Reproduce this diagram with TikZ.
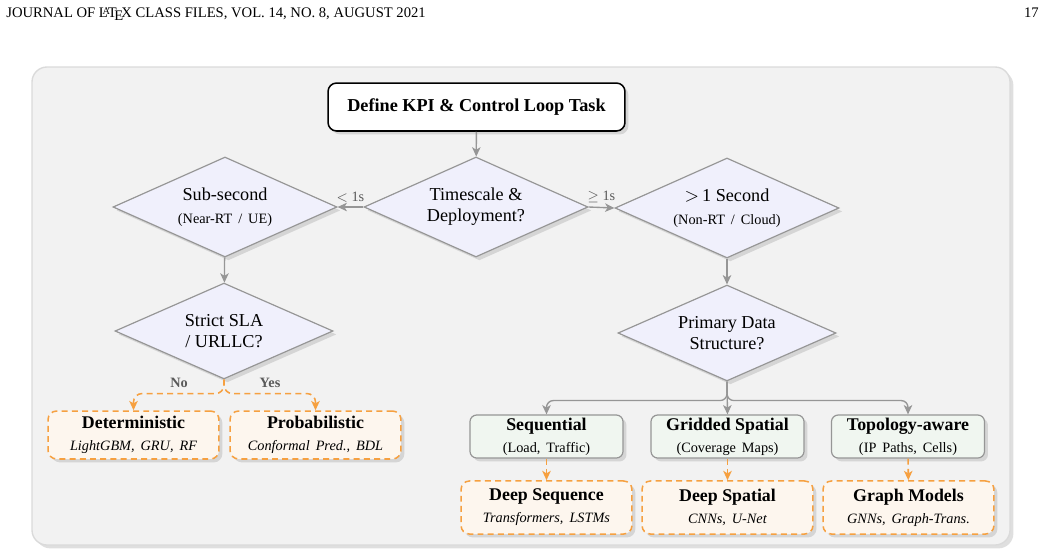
\documentclass[tikz,border=0pt]{standalone}
\usepackage{fontspec}
\setmainfont{Liberation Serif}
\usepackage{tikz}
\usetikzlibrary{shapes.geometric, shadows, arrows.meta}

\definecolor{bgfill}{RGB}{242,242,242}
\definecolor{bgline}{RGB}{218,218,218}
\definecolor{diafill}{RGB}{240,240,252}
\definecolor{grayline}{RGB}{150,150,150}
\definecolor{grnfill}{RGB}{240,246,240}
\definecolor{orgfill}{RGB}{253,246,238}
\definecolor{orgline}{RGB}{246,160,64}
\definecolor{lblgray}{RGB}{90,90,90}

\newcommand{\boxtitle}{\fontsize{10.5}{12}\selectfont\bfseries}
\newcommand{\boxsub}{\fontsize{8.4}{10}\selectfont}
\newcommand{\wsp}{\ \,}

\begin{document}
\begin{tikzpicture}[
  x=0.588pt, y=-0.588pt,
  shade/.style={drop shadow={opacity=0.25, shadow xshift=2pt, shadow yshift=-2pt}},
  startbox/.style={rectangle, draw=black, line width=0.9pt, fill=white, rounded corners=5pt,
                   minimum width=174.6pt, minimum height=28.2pt, font=\fontsize{10.7}{12}\selectfont\bfseries, shade},
  decide/.style={diamond, draw=grayline, line width=0.7pt, fill=diafill, inner sep=0pt, aspect=2.2,
                 align=center, font=\fontsize{10.7}{12.5}\selectfont, shade},
  toprow/.style={decide, minimum width=131.7pt, minimum height=58.8pt},
  lowrow/.style={decide, minimum width=128.2pt, minimum height=56.4pt},
  databox/.style={rectangle, draw=grayline, line width=0.7pt, fill=grnfill, rounded corners=4pt,
                  minimum width=90pt, minimum height=25.3pt, align=center, inner sep=1pt, shade},
  modelbox/.style={rectangle, draw=orgline, dash pattern=on 3.5pt off 2.5pt, line width=0.9pt, fill=orgfill,
                   rounded corners=5pt, minimum width=100.5pt, align=center, inner sep=1pt, shade},
  arrow/.style={-{Stealth[length=5.5pt, width=5pt, inset=1.5pt]}, line width=0.8pt, draw=grayline},
  orgarrow/.style={-{Stealth[length=5.5pt, width=5pt, inset=1.5pt]}, line width=0.9pt,
                   dash pattern=on 3.5pt off 2.5pt, draw=orgline},
  edgelbl/.style={font=\fontsize{8.4}{9}\selectfont, text=lblgray}
]
\useasboundingbox (0,0) rectangle (1041,558);

%% page header
\node[anchor=base west, inner sep=0pt, font=\fontsize{8.6}{9}\selectfont] (head) at (6,17)
  {JOURNAL OF \LaTeX\ CLASS FILES, VOL. 14, NO. 8, AUGUST 2021};
\node[anchor=base east, inner sep=0pt, font=\fontsize{8.6}{9}\selectfont] (pageno) at (1039,17) {17};

%% panel
\draw[draw=bgline, line width=0.8pt, fill=bgfill, rounded corners=8.8pt, shade]
  (32,67) rectangle (1010,545);

%% Decision nodes
\node[startbox] (task) at (476.5,107) {Define KPI \& Control Loop Task};
\node[toprow] (scale) at (476,207) {Timescale \&\\Deployment?};
\node[toprow] (fast) at (225,207)
  {Sub-second\\[1pt]{\boxsub (Near-RT\wsp/\wsp UE)}};
\node[toprow] (slow) at (727,208)
  {$>$\,1 Second\\[1pt]{\boxsub (Non-RT\wsp/\wsp Cloud)}};
\node[lowrow] (sla) at (224,331) {Strict SLA\\/ URLLC?};
\node[lowrow] (prim) at (727,333) {Primary Data\\Structure?};

%% Data structure boxes
\node[databox] (seq) at (546.5,436.5)
  {{\boxtitle Sequential}\\[1pt]{\boxsub (Load,\wsp Traffic)}};
\node[databox] (grid) at (727.5,436.5)
  {{\boxtitle Gridded Spatial}\\[1pt]{\boxsub (Coverage\wsp Maps)}};
\node[databox] (topo) at (908,436.5)
  {{\boxtitle Topology-aware}\\[1pt]{\boxsub (IP\wsp Paths,\wsp Cells)}};

%% Model boxes
\node[modelbox, minimum height=28.2pt] (det) at (133.5,435)
  {{\boxtitle Deterministic}\\[1pt]{\boxsub\itshape LightGBM,\wsp GRU,\wsp RF}};
\node[modelbox, minimum height=28.2pt] (prob) at (315.5,435)
  {{\boxtitle Probabilistic}\\[1pt]{\boxsub\itshape Conformal\wsp Pred.,\wsp BDL}};
\node[modelbox, minimum height=31.2pt] (dseq) at (546.5,507.5)
  {{\boxtitle Deep Sequence}\\[1pt]{\boxsub\itshape Transformers,\wsp LSTMs}};
\node[modelbox, minimum height=31.2pt] (dspa) at (727.5,507.5)
  {{\boxtitle Deep Spatial}\\[1pt]{\boxsub\itshape CNNs,\wsp U-Net}};
\node[modelbox, minimum height=31.2pt] (graph) at (908.5,507.5)
  {{\boxtitle Graph Models}\\[1pt]{\boxsub\itshape GNNs,\wsp Graph-Trans.}};

%% Gray flow
\draw[arrow] (task) -- (scale);
\draw[arrow] (scale.west) -- node[edgelbl, above=-1pt]{$<$ 1s} (fast.east);
\draw[arrow] (scale.east) -- node[edgelbl, above=-1pt]{$\geq$ 1s} (slow.west);
\draw[arrow] (fast) -- (sla);
\draw[arrow] (slow) -- (prim);
\draw[arrow, rounded corners=4pt] (prim.south) -- ++(0,19) -| (seq.north);
\draw[arrow, rounded corners=4pt] (prim.south) -- ++(0,19) -| (topo.north);
\draw[arrow] (prim.south) -- (grid.north);

%% Orange flow
\draw[orgarrow, rounded corners=5pt] (sla.south) -- ++(0,14) -| (det.north);
\draw[orgarrow, rounded corners=5pt] (sla.south) -- ++(0,14) -| (prob.north);
\node[edgelbl, font=\fontsize{8.4}{9}\selectfont\bfseries] (nolbl) at (179,383) {No};
\node[edgelbl, font=\fontsize{8.4}{9}\selectfont\bfseries] (yeslbl) at (270,383) {Yes};
\draw[orgarrow] (seq) -- (dseq);
\draw[orgarrow] (grid) -- (dspa);
\draw[orgarrow] (topo) -- (graph);
\end{tikzpicture}
\end{document}
